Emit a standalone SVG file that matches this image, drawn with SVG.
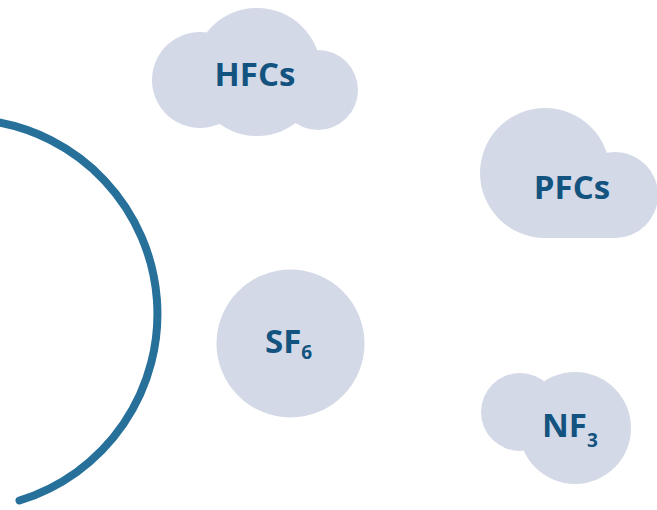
<svg xmlns="http://www.w3.org/2000/svg" width="657" height="510" viewBox="0 0 657 510">
<style>
.cloud{fill:#d3d9e6;}
.lbl{font-family:"Open Sans","Noto Sans","Liberation Sans",sans-serif;font-weight:700;font-size:33px;fill:#13537f;}
.sub{font-size:19px;}
.arc{fill:none;stroke:#27709a;stroke-width:8;stroke-linecap:round;}
</style>
<rect width="657" height="510" fill="#ffffff"/>
<g id="connectors">
<path class="arc" d="M -10 121 A 195 195 0 0 1 19.5 500.5"/>
</g>
<g id="hfcs">
<circle class="cloud" cx="200" cy="80" r="48"/>
<circle class="cloud" cx="257" cy="72" r="64"/>
<circle class="cloud" cx="318" cy="90" r="40"/>
<text class="lbl" x="255" y="86" text-anchor="middle">HFCs</text>
</g>
<g id="pfcs">
<circle class="cloud" cx="545" cy="173" r="65"/>
<circle class="cloud" cx="615" cy="195" r="43"/>
<rect class="cloud" x="545" y="195" width="70" height="43"/>
<text class="lbl" x="572" y="199" text-anchor="middle">PFCs</text>
</g>
<g id="sf6">
<circle class="cloud" cx="290.5" cy="343.5" r="74"/>
<text class="lbl" x="265" y="353">SF<tspan class="sub" dy="6">6</tspan></text>
</g>
<g id="nf3">
<circle class="cloud" cx="520" cy="412" r="39"/>
<circle class="cloud" cx="575" cy="428" r="56"/>
<text class="lbl" x="542" y="437">NF<tspan class="sub" dy="10">3</tspan></text>
</g>
</svg>
